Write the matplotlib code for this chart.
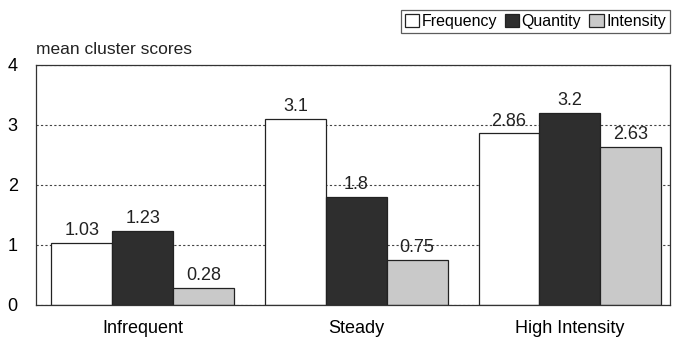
import numpy as np
import matplotlib
matplotlib.use("Agg")
import matplotlib.pyplot as plt

# Data
clusters = ["Infrequent", "Steady", "High Intensity"]
series = ["Frequency", "Quantity", "Intensity"]
frequency = [1.03, 3.1, 2.86]
quantity = [1.23, 1.8, 3.2]
intensity = [0.28, 0.75, 2.63]
value_labels = [["1.03", "3.1", "2.86"], ["1.23", "1.8", "3.2"], ["0.28", "0.75", "2.63"]]

plt.rcParams['font.family'] = ['Liberation Sans', 'DejaVu Sans']

fig = plt.figure(figsize=(6.75, 3.38), dpi=100)
ax = fig.add_axes([0.053, 0.098, 0.94, 0.71])

x = np.arange(len(clusters))
w = 0.285
colors = ["white", "#2e2e2e", "#c9c9c9"]
data = [frequency, quantity, intensity]
handles = []
for i, (vals, c, name) in enumerate(zip(data, colors, series)):
    bars = ax.bar(x + (i - 1) * w, vals, w, color=c, edgecolor="#222222",
                  linewidth=0.9, label=name, zorder=2)
    handles.append(bars)
    for b, lab in zip(bars, value_labels[i]):
        ax.text(b.get_x() + b.get_width() / 2, b.get_height() + 0.06, lab,
                ha="center", va="bottom", fontsize=13, color="#222222", zorder=3)

ax.set_ylim(0, 4)
ax.set_xlim(-0.5, 2.47)
ax.set_yticks([0, 1, 2, 3, 4])
ax.set_xticks(x)
ax.set_xticklabels(clusters, fontsize=13)
ax.tick_params(axis="y", labelsize=13, length=0, pad=13)
ax.tick_params(axis="x", length=0, pad=11)
ax.yaxis.grid(True, linestyle=(0, (2, 2)), color="#444444", linewidth=0.8, zorder=0)
for s in ax.spines.values():
    s.set_color("#333333")
    s.set_linewidth(0.9)

fig.text(0.053, 0.84, "mean cluster scores", fontsize=12.5, color="#222222")

leg = fig.legend(handles=handles, labels=series, loc="upper right",
                 bbox_to_anchor=(0.997, 0.98), ncol=3, fontsize=11.5,
                 frameon=True, fancybox=False, edgecolor="#333333",
                 handlelength=0.9, handleheight=0.8, handletextpad=0.15,
                 columnspacing=0.5, borderpad=0.25, borderaxespad=0.2)
leg.get_frame().set_linewidth(0.9)

fig.savefig("out.png", dpi=100)
